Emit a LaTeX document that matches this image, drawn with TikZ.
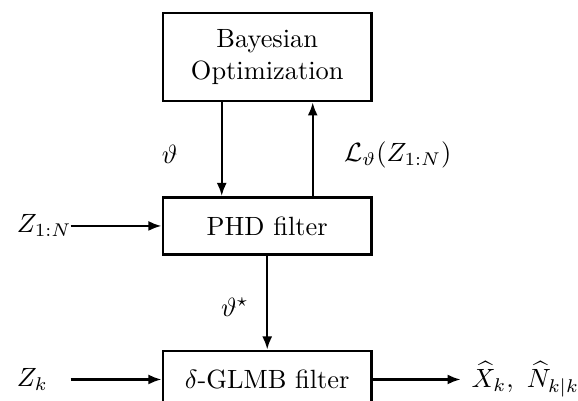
\documentclass[tikz,border=0pt]{standalone}
\usepackage{amsmath}
\usetikzlibrary{positioning,arrows.meta}

\begin{document}
\begin{tikzpicture}[>={Latex[length=5pt,width=3.8pt]},
        block/.style={draw, line width=1pt, minimum width=2.78cm, align=center},
        flow/.style={->, line width=0.9pt}]

        \useasboundingbox (0,0) rectangle (7.70,-5.34);
        \clip (0,0) rectangle (7.70,-5.34);

        \node[block, minimum height=1.17cm] (bo) at (3.56,-0.76) {Bayesian\\Optimization};
        \node[block, minimum height=0.76cm, below=1.25cm of bo] (phd) {PHD filter};
        \node[block, minimum height=0.76cm, below=1.25cm of phd] (glmb) {$\delta$-GLMB filter};

        \draw[flow] ([xshift=-0.606cm]bo.south) -- ([xshift=-0.606cm]phd.north);
        \draw[flow] ([xshift=0.606cm]phd.north) -- ([xshift=0.606cm]bo.south);
        \draw[flow] (phd) -- (glmb);

        \node (theta) at (2.26,-2.06) {$\vartheta$};
        \node (lik) at (5.30,-2.06) {$\mathcal{L}_{\vartheta}(Z_{1:N})$};
        \node (thetastar) at (3.13,-4.09) {$\vartheta^{\star}$};

        \coordinate[left=1.21cm of phd.west] (zin);
        \coordinate[left=1.21cm of glmb.west] (zkin);
        \coordinate[right=1.17cm of glmb.east] (xout);
        \node[anchor=west] (zall) at (0.1,0 |- zin) {$Z_{1:N}$};
        \node[anchor=west] (zk) at (0.1,0 |- zkin) {$Z_k$};
        \node[right=0.02cm of xout] (est) {$\widehat{X}_k,\ \widehat{N}_{k|k}$};

        \draw[flow] (zin) -- (phd);
        \draw[flow] (zkin) -- (glmb);
        \draw[flow] (glmb) -- (xout);

        \end{tikzpicture}
\end{document}
